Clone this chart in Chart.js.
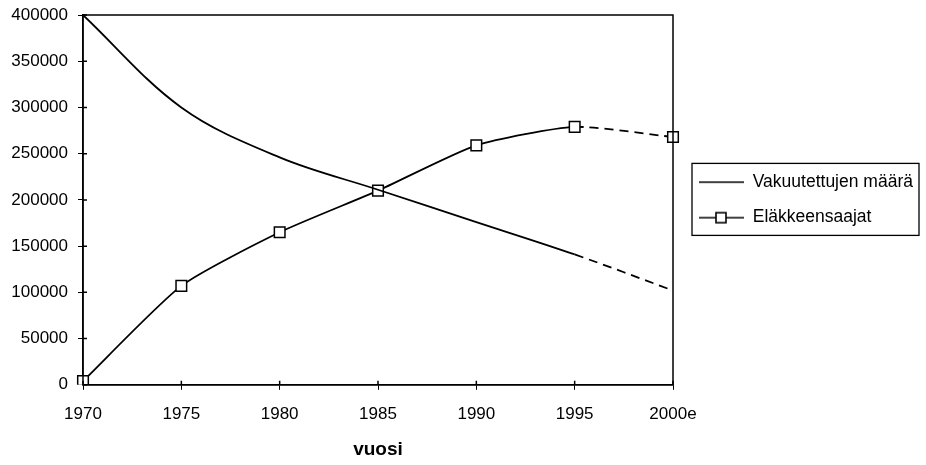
<!DOCTYPE html>
<html>
<head>
<meta charset="utf-8">
<script src="https://cdn.jsdelivr.net/npm/chart.js@4"></script>
<style>
  html, body { margin: 0; padding: 0; background: #fff; }
  #wrap { width: 926px; height: 465px; }
</style>
</head>
<body>
<div id="wrap"><canvas id="kaavio" width="926" height="465"></canvas></div>
<script>
// vuodet ja arvot luettu kuvasta
var vuodet = ['1970', '1975', '1980', '1985', '1990', '1995', '2000e'];
var vakuutetut = [400000, 300000, 246000, 211000, 176000, 141000, 102000];
var elakkeensaajat = [4000, 107000, 165000, 210000, 259000, 279000, 268000];
var yTicks = [0, 50000, 100000, 150000, 200000, 250000, 300000, 350000, 400000];

var fontti = "'Liberation Sans', Arial, sans-serif";

// ennuste (1995 -> 2000e) katkoviivalla
function katko(ctx) {
  return ctx.p0DataIndex === vuodet.length - 2 ? [9, 6] : undefined;
}

// legendan viivanäyte (+ neliö), vasemmalla tyhjää tilaa
function legendaKuva(merkki) {
  var c = document.createElement('canvas');
  c.width = 53; c.height = 16;
  var g = c.getContext('2d');
  g.strokeStyle = '#000';
  g.lineWidth = 1.6;
  g.beginPath(); g.moveTo(8, 8); g.lineTo(53, 8); g.stroke();
  if (merkki) {
    g.fillStyle = '#fff';
    g.fillRect(25, 3, 10, 10);
    g.strokeRect(25, 3, 10, 10);
  }
  return c;
}

var kehys = {
  id: 'kehys',
  afterInit: function(chart) {
    // legendan leveys kiinteäksi, jotta piirtoalue päättyy kuten kuvassa
    var leg = chart.legend;
    var alkup = leg.fit;
    leg.fit = function() { alkup.call(this); this.width = 253; };
  },
  afterDraw: function(chart) {
    var ctx = chart.ctx, a = chart.chartArea, l = chart.legend;
    ctx.save();
    ctx.strokeStyle = '#000';
    ctx.lineWidth = 1.5;
    ctx.strokeRect(a.left, a.top, a.right - a.left, a.bottom - a.top);
    // tikit myös sisäpuolelle
    ctx.beginPath();
    var x = chart.scales.x, y = chart.scales.y;
    for (var i = 0; i < x.ticks.length; i++) {
      var px = x.getPixelForTick(i);
      ctx.moveTo(px, a.bottom - 4); ctx.lineTo(px, a.bottom);
    }
    for (var j = 0; j < y.ticks.length; j++) {
      var py = y.getPixelForTick(j);
      ctx.moveTo(a.left, py); ctx.lineTo(a.left + 4, py);
    }
    ctx.stroke();
    // legendan kehys
    var hb = l.legendHitBoxes;
    if (hb && hb.length) {
      var top = hb[0].top - 10;
      var bottom = hb[hb.length - 1].top + hb[hb.length - 1].height + 9;
      var left = hb[0].left + 1;
      ctx.lineWidth = 1.3;
      ctx.strokeRect(left, top, 919 - left, bottom - top);
    }
    ctx.restore();
  }
};

new Chart(document.getElementById('kaavio'), {
  type: 'line',
  data: {
    labels: vuodet,
    datasets: [{
      label: 'Vakuutettujen määrä',
      data: vakuutetut,
      borderColor: '#000',
      borderWidth: 1.8,
      pointRadius: 0,
      tension: 0.35,
      segment: { borderDash: katko }
    }, {
      label: 'Eläkkeensaajat',
      data: elakkeensaajat,
      borderColor: '#000',
      borderWidth: 1.8,
      pointStyle: 'rect',
      pointRadius: 7.5,
      pointBorderWidth: 1.5,
      pointBorderColor: '#000',
      pointBackgroundColor: '#fff',
      tension: 0.2,
      segment: { borderDash: katko }
    }]
  },
  options: {
    responsive: false,
    animation: false,
    layout: { padding: { left: 0, right: 0, top: 15, bottom: 4 } },
    plugins: {
      tooltip: { enabled: false },
      legend: {
        position: 'right',
        align: 'center',
        fullSize: false,
        labels: {
          color: '#000',
          font: { family: fontti, size: 17.5 },
          usePointStyle: true,
          pointStyleWidth: 53,
          padding: 18,
          generateLabels: function(chart) {
            var items = Chart.defaults.plugins.legend.labels.generateLabels(chart);
            items[0].pointStyle = legendaKuva(false);
            items[1].pointStyle = legendaKuva(true);
            return items;
          }
        }
      }
    },
    scales: {
      x: {
        type: 'category',
        offset: false,
        grid: { display: true, drawOnChartArea: false, drawTicks: true, tickLength: 5, color: '#000', offset: false },
        border: { color: '#000', width: 1.5 },
        ticks: { color: '#000', font: { family: fontti, size: 17 }, padding: 14, maxRotation: 0 },
        title: { display: true, text: 'vuosi', color: '#000', font: { family: fontti, size: 19, weight: 'bold' }, padding: { top: 0, bottom: 0 } }
      },
      y: {
        min: 0,
        max: 400000,
        afterBuildTicks: function(scale) {
          scale.ticks = yTicks.map(function(v) { return { value: v }; });
        },
        afterFit: function(scale) {
          scale.width = 83;
          scale.paddingTop = 0;
        },
        grid: { display: true, drawOnChartArea: false, drawTicks: true, tickLength: 5, color: '#000' },
        border: { color: '#000', width: 1.5 },
        ticks: {
          color: '#000',
          font: { family: fontti, size: 17 },
          padding: 10,
          callback: function(v) { return String(v); }
        }
      }
    }
  },
  plugins: [kehys]
});
</script>
</body>
</html>
